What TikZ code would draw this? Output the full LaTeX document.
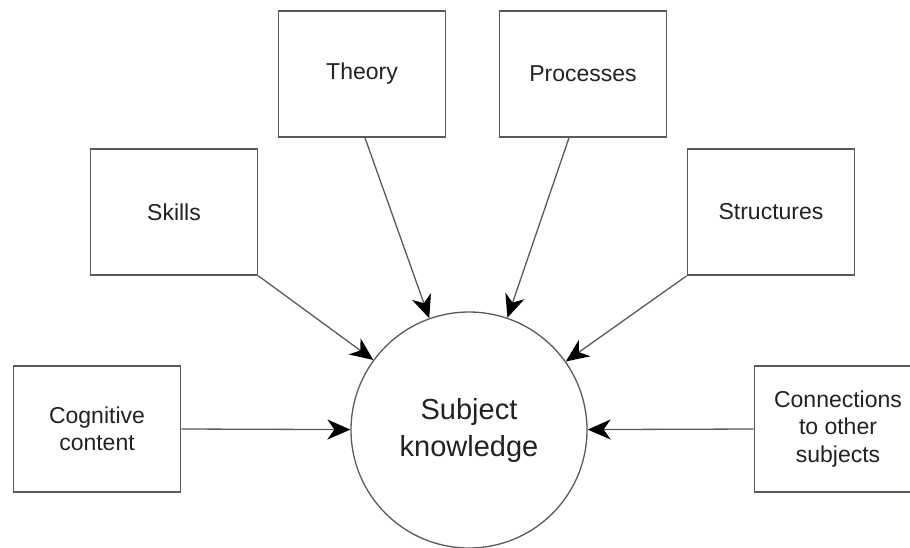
\documentclass[tikz,border=0pt]{standalone}
\usepackage{fontspec}
\setmainfont{Liberation Sans}
\usetikzlibrary{arrows.meta}
\definecolor{edge}{HTML}{5A5A5A}
\definecolor{txt}{HTML}{222222}
\tikzset{
  box/.style={draw=edge, line width=1.6pt, minimum width=167pt, minimum height=126pt,
    inner sep=0pt, align=center, font=\fontsize{23}{27.5}\selectfont, text=txt},
  hub/.style={draw=edge, line width=1.3pt, circle, minimum size=236pt, inner sep=0pt,
    align=center, font=\fontsize{29}{37}\selectfont, text=txt},
  link/.style={draw=edge, line width=1.3pt, -{Stealth[length=23pt, width=20pt, inset=7pt, color=black]}}
}
\begin{document}
\begin{tikzpicture}[x=1pt, y=-1pt]
\clip (0,0) rectangle (910,547);
\fill[white] (0,0) rectangle (910,547);
\node[hub] (c) at (469,430) {Subject\\knowledge};
\node[box] (th) at (362,74) {Theory};
\node[box] (pr) at (583,74) {Processes};
\node[box] (sk) at (174,212) {Skills};
\node[box] (st) at (771,212) {Structures};
\node[box] (cg) at (97,429) {Cognitive\\content};
\node[box] (cn) at (838,429) {Connections\\to other\\subjects};
\draw[link] ([xshift=3pt]th.south) -- (c);
\draw[link] ([xshift=-14pt]pr.south) -- (c);
\draw[link] (sk.south east) -- (c);
\draw[link] (st.south west) -- (c);
\draw[link] (cg.east) -- (c);
\draw[link] (cn.west) -- (c);
\end{tikzpicture}
\end{document}
